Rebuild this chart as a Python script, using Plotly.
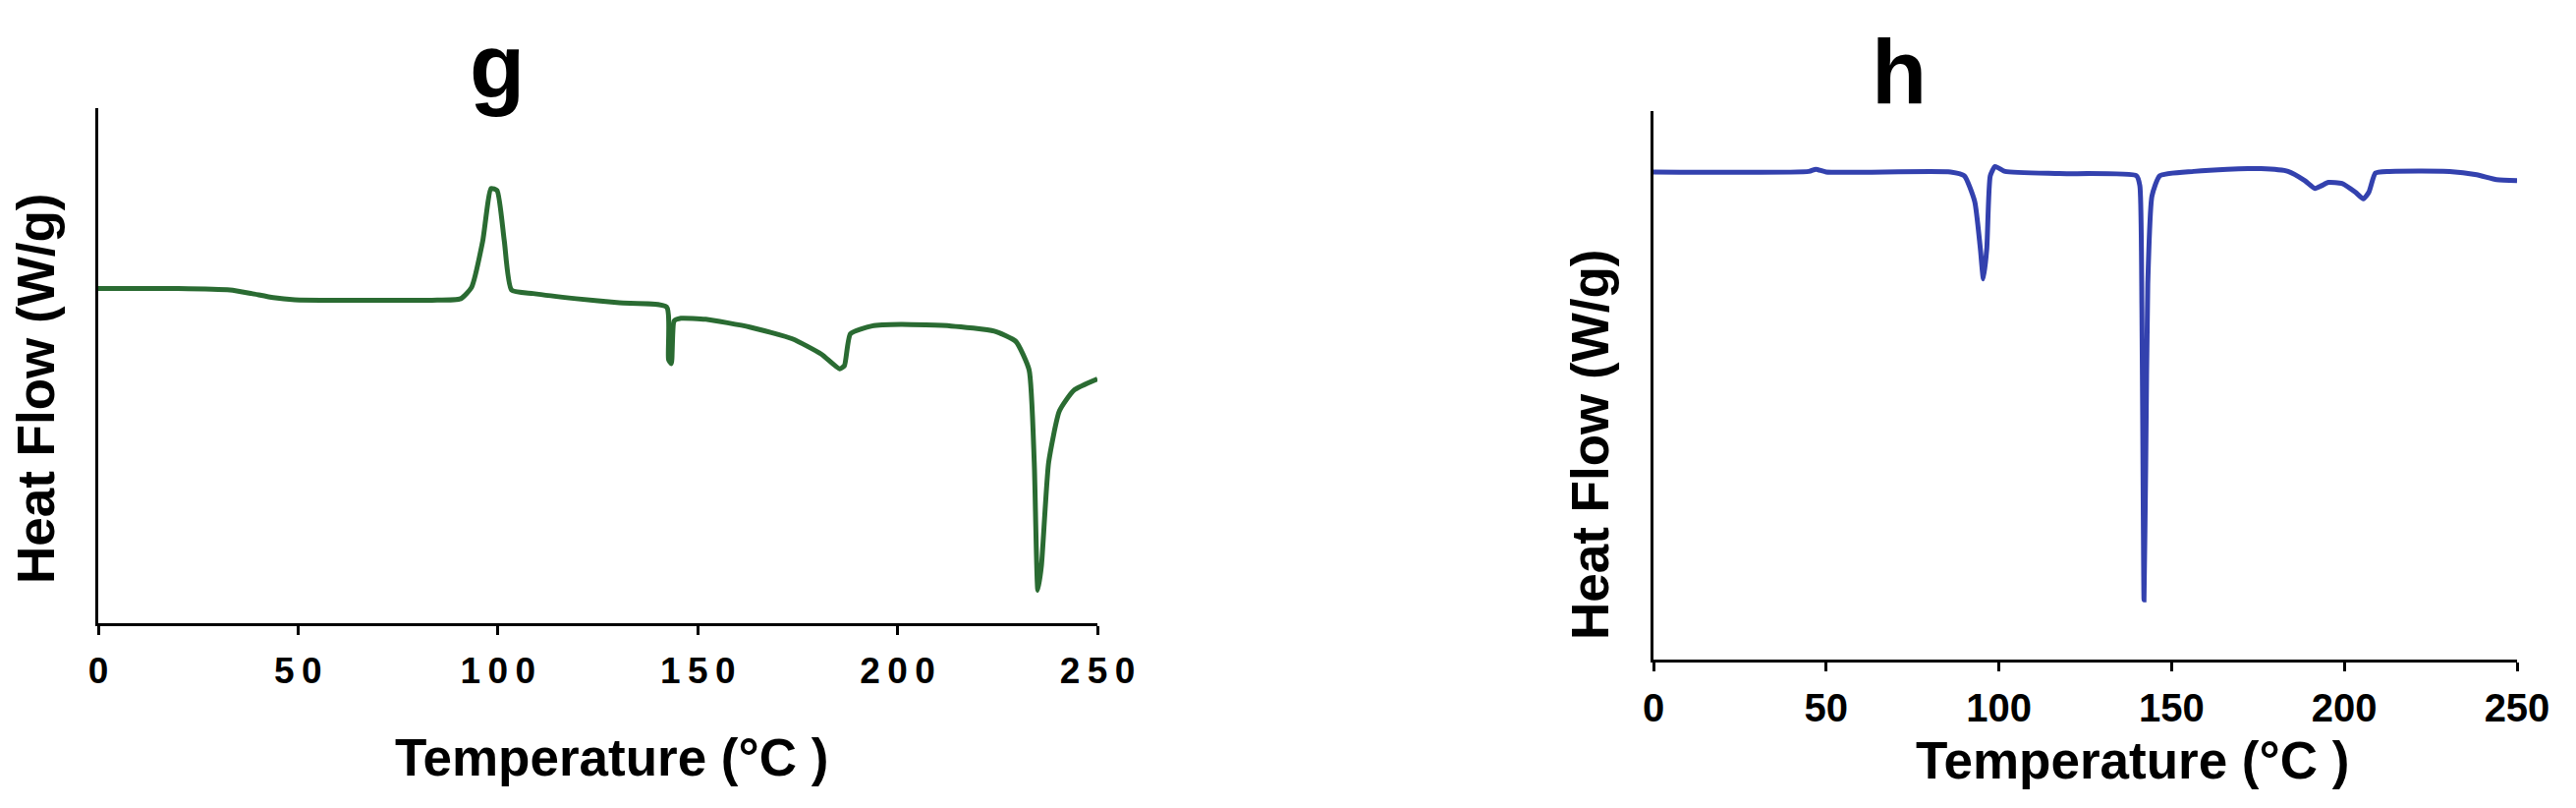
import plotly.graph_objects as go

# DSC trace g (green) - temperature in degC, heat flow in arbitrary units (0-100 of axis height)
temp_g = [0, 20, 33, 38.4, 43.8, 49.2, 60, 83.5, 90.7, 93.4, 96.2, 98.3, 99.8, 101.6, 103.4,
          108.8, 119.6, 130.4, 142.2, 142.7, 143.4, 144.1, 145.8, 152, 163, 173.7, 181,
          185.5, 186.7, 188.2, 193.6, 200.8, 213.4, 224.2, 229.6, 232.9, 234.2, 235.1,
          236, 237.8, 240.5, 244.1, 250]
flow_g = [65.0, 65.0, 64.7, 64.0, 63.2, 62.8, 62.7, 62.7, 63.0, 65.2, 74.2, 84.4, 84.0, 74.2, 64.7,
          64.0, 63.0, 62.2, 61.4, 51.2, 50.4, 58.7, 59.2, 59.0, 57.5, 55.2, 52.2,
          49.4, 50.0, 56.2, 57.7, 58.0, 57.7, 56.7, 54.7, 49.2, 31.2, 6.4,
          11.2, 31.2, 41.2, 45.2, 47.4]

# DSC trace h (blue)
temp_h = [0, 45, 47, 50, 86, 90, 93, 94.6, 95.5, 96.5, 97.5, 98.9, 101.8, 117.4, 139.8, 140.8,
          141.4, 141.8, 142, 142.5, 143.1, 144.3, 146.6, 156.4, 166.1, 175.9, 183.7, 188.6,
          191.5, 193.4, 195.4, 199.3, 203.2, 205.5, 207.1, 209, 212.9, 230.5, 238.3, 244.1, 250]
flow_h = [88.9, 89.0, 89.4, 88.9, 88.9, 88.2, 83.5, 75.1, 69.4, 75.0, 88.2, 89.9, 89.0, 88.6, 88.2, 86.4,
          63.8, 26.2, 10.9, 35.6, 68.5, 84.5, 88.2, 89.0, 89.4, 89.5, 89.0, 87.3,
          85.9, 86.4, 87.0, 86.8, 85.2, 84.0, 85.2, 88.7, 89.0, 89.0, 88.4, 87.5, 87.3]

tick_vals = [0, 50, 100, 150, 200, 250]
tick_text_g = ["\u2009".join(str(v)) for v in tick_vals]  # spaced digits as in panel g
tick_text_h = [str(v) for v in tick_vals]

# the page body has an 8px margin, so the figure is a bit smaller than the window
W, H = 2606, 806
FONT = "Liberation Sans, Arial, sans-serif"

fig = go.Figure()
fig.add_trace(go.Scatter(x=temp_g, y=flow_g, mode="lines", xaxis="x", yaxis="y",
                         line=dict(color="#2a6b32", width=5, shape="spline", smoothing=0.5),
                         showlegend=False))
fig.add_trace(go.Scatter(x=temp_h, y=flow_h, mode="lines", xaxis="x2", yaxis="y2",
                         line=dict(color="#3341ae", width=5, shape="spline", smoothing=0.5),
                         showlegend=False))

# automargin off: the default template would otherwise squeeze the plot area sideways
xcommon = dict(range=[0, 250], showgrid=False, zeroline=False, showline=True, automargin=False,
               linecolor="black", linewidth=3, ticks="outside", ticklen=9, tickwidth=3,
               tickcolor="black", tickvals=tick_vals)
ycommon = dict(range=[0, 100], showgrid=False, zeroline=False, showline=True, automargin=False,
               linecolor="black", linewidth=3, showticklabels=False, ticks="")

fig.update_layout(
    width=W, height=H,
    paper_bgcolor="white", plot_bgcolor="white",
    margin=dict(l=0, r=0, t=0, b=0, pad=0),
    font=dict(family=FONT, color="black"),
    xaxis=dict(xcommon, domain=[92 / W, 1109 / W], anchor="y", ticktext=tick_text_g,
               ticklabelstandoff=5, tickfont=dict(size=37, family=FONT, weight="bold")),
    yaxis=dict(ycommon, domain=[(H - 626) / H, (H - 102) / H], anchor="x"),
    xaxis2=dict(xcommon, domain=[1675 / W, 2554 / W], anchor="y2", ticktext=tick_text_h,
                ticklabelstandoff=3, tickfont=dict(size=40, family=FONT, weight="bold")),
    yaxis2=dict(ycommon, domain=[(H - 663) / H, (H - 105) / H], anchor="x2"),
)

def ann(text, x, y, size, angle=0):
    fig.add_annotation(text=text, x=x / W, y=1 - y / H, xref="paper", yref="paper",
                       xanchor="center", yanchor="middle", showarrow=False, textangle=angle,
                       font=dict(size=size, family=FONT, color="black", weight="bold"))

# panel letters
ann("g", 498, 60, 92)
ann("h", 1925, 65, 92)
# axis titles
ann("Temperature (°C )", 614, 762, 53)
ann("Temperature (°C )", 2162, 765, 53)
ann("Heat Flow (W/g)", 28, 388, 53, -90)
ann("Heat Flow (W/g)", 1610, 445, 53, -90)

fig.write_html("out.html")
